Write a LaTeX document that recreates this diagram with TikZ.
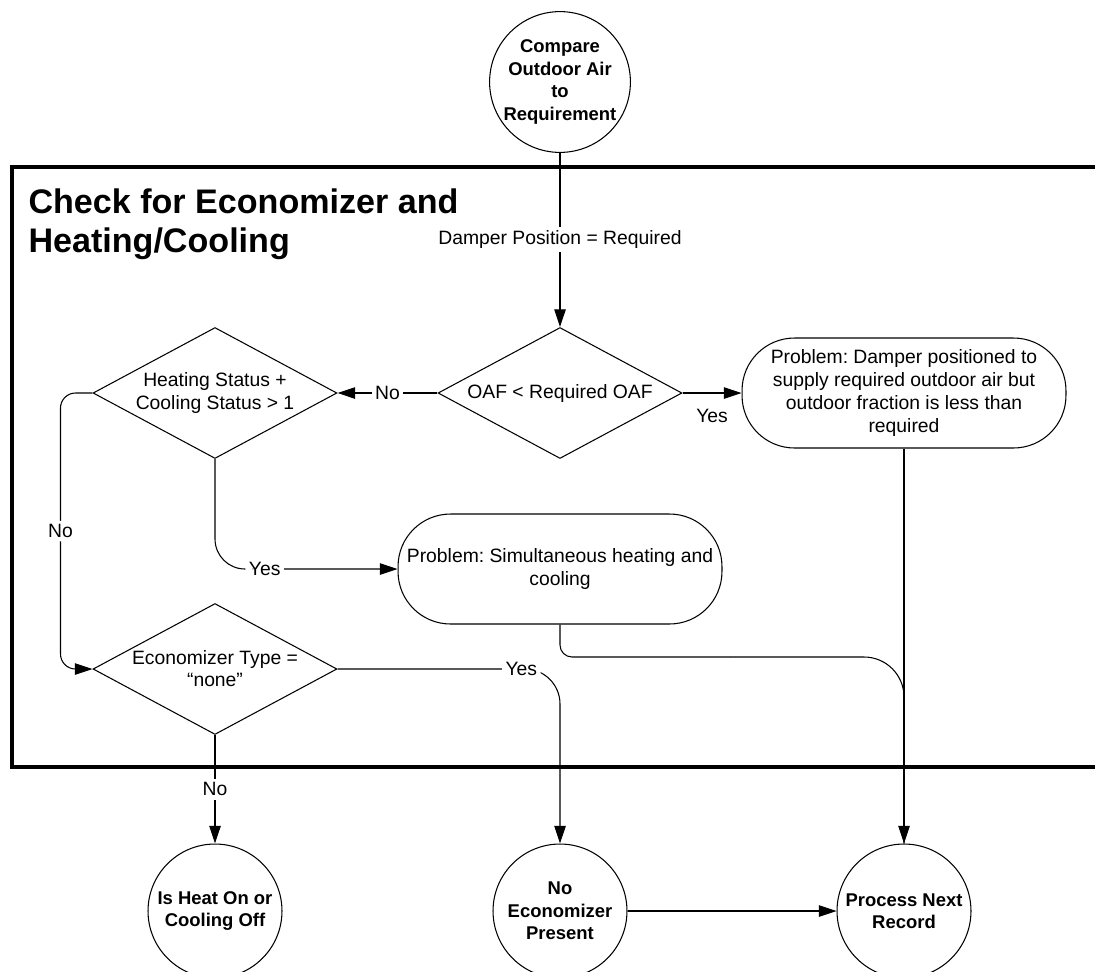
\documentclass[tikz,border=0pt]{standalone}
\usepackage{fontspec}
\setmainfont{Liberation Sans}
\usetikzlibrary{arrows.meta, positioning, shapes.geometric}
\frenchspacing

\tikzset{
  decision/.style={draw, diamond, aspect=1.86, inner sep=0pt, minimum width=4.88cm, minimum height=2.62cm, align=center, font=\fontsize{11}{12.6}\selectfont},
  terminal/.style={draw, circle, inner sep=0pt, align=center, font=\fontsize{10.5}{12.8}\selectfont\bfseries},
  problem/.style={draw, rectangle, rounded corners=1.05cm, minimum width=6.48cm, minimum height=2.2cm, align=center, font=\fontsize{11}{13.2}\selectfont},
  flow/.style={draw, -{Triangle[length=10pt,width=6.5pt]}},
  lbl/.style={fill=white, inner sep=2pt, font=\fontsize{11}{12.6}\selectfont},
}

\begin{document}
\begin{tikzpicture}[x=0.02cm, y=-0.02cm, line width=0.6pt]
  \clip (0,0) rectangle (1095,971);

  % frame and title
  \draw[line width=2.3pt] (12,167) rectangle (1130,767);
  \node[anchor=north west, inner sep=0pt, align=left, font=\fontsize{19.4}{22.2}\selectfont\bfseries] (title) at (28,188) {Check for Economizer and\\Heating/Cooling};

  % nodes
  \node[terminal, minimum size=2.8cm] (cmp) at (560,82) {Compare\\Outdoor Air\\to\\Requirement};
  \node[decision] (oaf) at (560,393) {OAF < Required OAF};
  \node[decision] (hcs) at (215,393) {Heating Status +\\Cooling Status > 1};
  \node[problem] (pdm) at (904,393) {Problem: Damper positioned to\\supply required outdoor air but\\outdoor fraction is less than\\required};
  \node[problem] (psh) at (560,569) {Problem: Simultaneous heating and\\cooling};
  \node[decision] (eco) at (215,669) {Economizer Type =\\“none”};
  \node[terminal, minimum size=2.68cm] (heat) at (215,911) {Is Heat On or\\Cooling Off};
  \node[terminal, minimum size=2.68cm] (noeco) at (560,911) {No\\Economizer\\Present};
  \node[terminal, minimum size=2.68cm] (next) at (904,911) {Process Next\\Record};

  % connectors
  \draw[flow] (cmp) -- node[lbl]{Damper Position = Required} (oaf);
  \draw[flow] (oaf) -- node[lbl]{No} (hcs);
  \draw[flow] (oaf) -- node[lbl, below=0.28cm, inner sep=1pt]{Yes} (pdm);
  \draw[flow, rounded corners=0.6cm] (hcs.south) |- node[lbl, pos=0.636]{Yes} (psh.west);
  \draw[flow, rounded corners=0.3cm] (hcs.west) -- ++(-32,0) |- node[lbl, pos=0.25]{No} (eco.west);
  \draw[flow, rounded corners=0.7cm] (eco.east) -| node[lbl, pos=0.413]{Yes} (noeco.north);
  \draw[flow] (eco) -- node[lbl]{No} (heat);
  \draw[flow] (pdm) -- (next);
  \draw[flow] (noeco) -- (next);
  \coordinate (join) at (730,657);
  \draw[rounded corners=0.24cm] (psh.south) |- (join);
  \draw[rounded corners=0.8cm] (join) -| (next.north);
\end{tikzpicture}
\end{document}
